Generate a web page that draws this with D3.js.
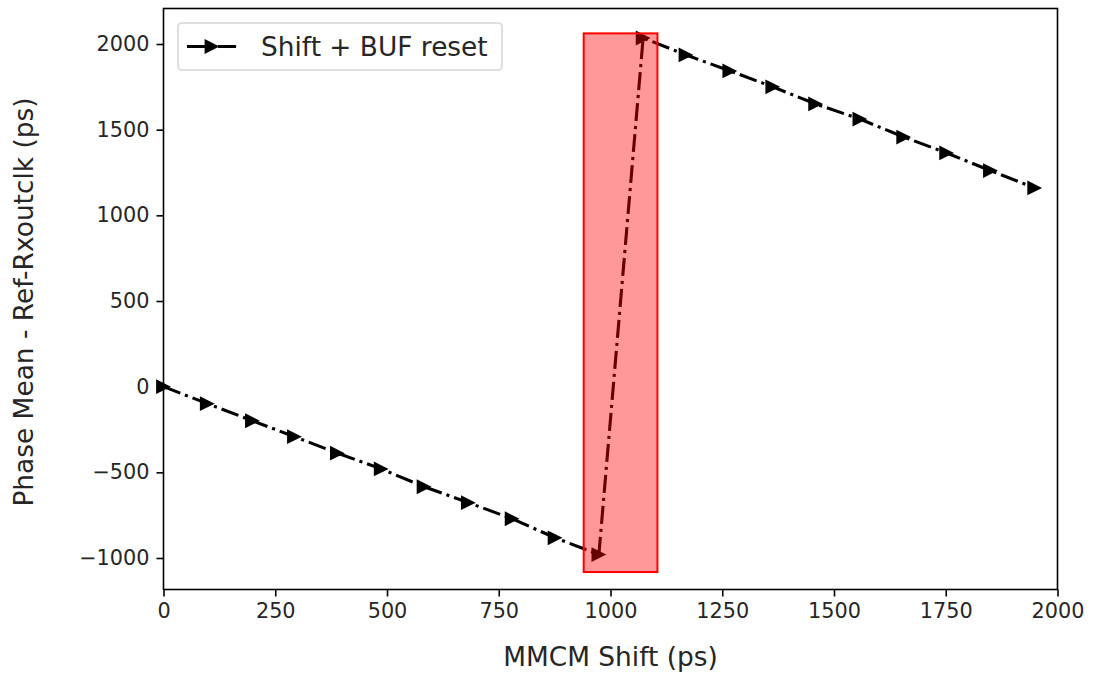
<!DOCTYPE html>
<html>
<head>
<meta charset="utf-8">
<script src="https://cdn.jsdelivr.net/npm/d3@7"></script>
<style>
  body { margin: 0; background: #fff; }
  text { font-family: "DejaVu Sans", sans-serif; fill: #262626; }
</style>
</head>
<body>
<svg id="chart" width="1094" height="676"></svg>
<script>
// ---- data ----
const shiftPs = [0, 98, 199, 293, 389, 487, 583, 682, 780, 876, 974,
                 1073, 1169, 1267, 1363, 1459, 1558, 1656, 1752, 1850, 1949];
const phaseMean = [0, -99, -199, -292, -388, -480, -584, -677, -771, -882, -980,
                   2035, 1936, 1843, 1750, 1650, 1562, 1457, 1364, 1261, 1160];
const seriesName = "Shift + BUF reset";
const xTicks = [0, 250, 500, 750, 1000, 1250, 1500, 1750, 2000];
const yTicks = [-1000, -500, 0, 500, 1000, 1500, 2000];
const highlightX = [940, 1105];
const highlightY = [-1082, 2062];
const xLabel = "MMCM Shift (ps)";
const yLabel = "Phase Mean - Ref-Rxoutclk (ps)";

// ---- layout ----
const svg = d3.select("#chart");
const L = 163.5, R = 1057.5, T = 8.5, B = 589.5;
const x = d3.scaleLinear().domain([0, 2000]).range([L, R]);
const y = d3.scaleLinear().domain([-1000, 2000]).range([558, 44]);

const fmt = d => (d < 0 ? "\u2212" + Math.abs(d) : String(d));

// axes
const xAxis = svg.append("g").attr("transform", `translate(0,${B})`)
  .call(d3.axisBottom(x).tickValues(xTicks).tickFormat(fmt).tickSize(7).tickPadding(7));
const yAxis = svg.append("g").attr("transform", `translate(${L},0)`)
  .call(d3.axisLeft(y).tickValues(yTicks).tickFormat(fmt).tickSize(7).tickPadding(7));
[xAxis, yAxis].forEach(g => {
  g.select(".domain").remove();
  g.selectAll(".tick line").attr("stroke", "#000").attr("stroke-width", 1.6);
  g.selectAll(".tick text").attr("font-size", 20.8).attr("fill", "#262626")
    .style("font-family", '"DejaVu Sans", sans-serif');
});

// line
const line = d3.line().x((d, i) => x(shiftPs[i])).y(d => y(d));
svg.append("path").datum(phaseMean)
  .attr("d", line).attr("fill", "none").attr("stroke", "#000")
  .attr("stroke-width", 3.1).attr("stroke-dasharray", "18,5,3.1,5");

// markers (right-pointing triangles)
const h = 7.4;
const triPath = `M${h},0L${-h},${-h}L${-h},${h}Z`;
svg.append("g").selectAll("path").data(phaseMean).join("path")
  .attr("d", triPath)
  .attr("transform", (d, i) => `translate(${x(shiftPs[i])},${y(d)})`)
  .attr("fill", "#000");

// highlight rectangle
svg.append("rect")
  .attr("x", x(highlightX[0])).attr("y", y(highlightY[1]))
  .attr("width", x(highlightX[1]) - x(highlightX[0]))
  .attr("height", y(highlightY[0]) - y(highlightY[1]))
  .attr("fill", "rgba(255,0,0,0.4)").attr("stroke", "#ff0000").attr("stroke-width", 2);

// frame
svg.append("rect").attr("x", L).attr("y", T).attr("width", R - L).attr("height", B - T)
  .attr("fill", "none").attr("stroke", "#000").attr("stroke-width", 1.6);

// legend
const lg = svg.append("g");
lg.append("rect").attr("x", 178).attr("y", 23).attr("width", 324).attr("height", 47)
  .attr("rx", 4).attr("fill", "rgba(255,255,255,0.8)").attr("stroke", "#d6d6d6").attr("stroke-width", 1.6);
lg.append("line").attr("x1", 187).attr("x2", 240).attr("y1", 46.5).attr("y2", 46.5)
  .attr("stroke", "#000").attr("stroke-width", 3.1).attr("stroke-dasharray", "18,5,3.1,5");
lg.append("path").attr("d", triPath).attr("transform", "translate(212,46.5)").attr("fill", "#000");
lg.append("text").attr("x", 261).attr("y", 55.5).attr("font-size", 26.4).text(seriesName);

// axis labels
svg.append("text").attr("x", (L + R) / 2).attr("y", 666).attr("text-anchor", "middle")
  .attr("font-size", 26.4).text(xLabel);
svg.append("text").attr("transform", `translate(33,${(T + B) / 2 + 3}) rotate(-90)`)
  .attr("text-anchor", "middle").attr("font-size", 26.4).text(yLabel);
</script>
</body>
</html>
